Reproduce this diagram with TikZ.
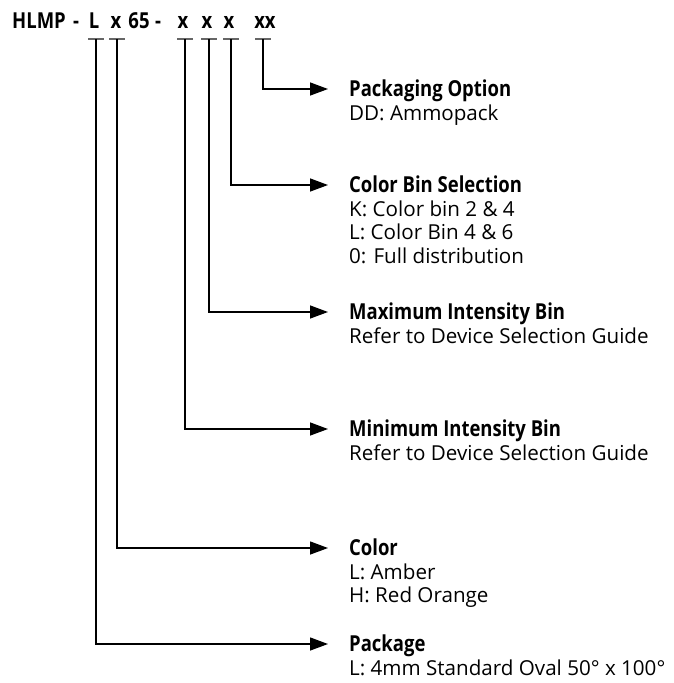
\documentclass[tikz,border=0pt]{standalone}
\usepackage{fontspec}
\setmainfont{Open Sans}
\newfontfamily\headfont[FakeStretch=0.84]{Open Sans}
\usetikzlibrary{arrows.meta}
\begin{document}
\begin{tikzpicture}[x=1pt,y=-1pt,
    head/.style={font=\headfont\bfseries\fontsize{22}{23}\selectfont,
      inner sep=0pt, text height=14pt, text depth=0pt, anchor=west},
    detail/.style={font=\fontsize{20.6}{23}\selectfont,
      inner sep=0pt, text height=14pt, text depth=9pt, anchor=north west},
    code/.style={font=\headfont\bfseries\fontsize{22}{23}\selectfont,
      inner sep=0pt, anchor=base},
    bar/.style={black!60, line width=1.5pt},
    feed/.style={line width=1.4pt, -{Triangle[length=18pt,width=13pt]},
      shorten >=21pt}]
  \useasboundingbox (0,0) rectangle (673,683);
  % part number
  \node[code, anchor=base west] (hlmp) at (12,28) {HLMP};
  \node[code] (dashA) at (76,28) {-};
  \node[code] (pkgCode) at (94,28) {L};
  \node[code] (colCode) at (116,28) {x};
  \node[code] (num) at (139,28) {65};
  \node[code] (dashB) at (158,28) {-};
  \node[code] (minCode) at (183,28) {x};
  \node[code] (maxCode) at (207,28) {x};
  \node[code] (binCode) at (229,28) {x};
  \node[code] (optCode) at (265,28) {xx};
  % taps under the code letters
  \coordinate (pkgTap) at (96,39);
  \coordinate (colTap) at (117,39);
  \coordinate (minTap) at (185,39);
  \coordinate (maxTap) at (209,39);
  \coordinate (binTap) at (231,39);
  \coordinate (optTap) at (263,39);
  \draw[bar]
    ([xshift=-8pt]pkgTap) -- ([xshift=8pt]pkgTap)
    ([xshift=-8pt]colTap) -- ([xshift=8pt]colTap)
    ([xshift=-8pt]minTap) -- ([xshift=8pt]minTap)
    ([xshift=-8pt]maxTap) -- ([xshift=8pt]maxTap)
    ([xshift=-8pt]binTap) -- ([xshift=8pt]binTap)
    ([xshift=-8pt]optTap) -- ([xshift=8pt]optTap);
  % fields
  \node[head] (optHead) at (349,89) {Packaging Option};
  \node[detail] (optText) at ([yshift=-10pt]optHead.south west) {DD: Ammopack};
  \node[head] (binHead) at (349,185) {Color Bin Selection};
  \node[detail] (binTextA) at ([yshift=-10pt]binHead.south west) {K: Color bin 2 \& 4};
  \node[detail] (binTextB) at (binTextA.south west) {L: Color Bin 4 \& 6};
  \node[detail] (binTextC) at (binTextB.south west) {0: Full distribution};
  \node[head] (maxHead) at (349,312) {Maximum Intensity Bin};
  \node[detail] (maxText) at ([yshift=-10pt]maxHead.south west) {Refer to Device Selection Guide};
  \node[head] (minHead) at (349,429) {Minimum Intensity Bin};
  \node[detail] (minText) at ([yshift=-10pt]minHead.south west) {Refer to Device Selection Guide};
  \node[head] (colHead) at (349,548) {Color};
  \node[detail] (colTextA) at ([yshift=-10pt]colHead.south west) {L: Amber};
  \node[detail] (colTextB) at (colTextA.south west) {H: Red Orange};
  \node[head] (pkgHead) at (349,644) {Package};
  \node[detail] (pkgText) at ([yshift=-10pt]pkgHead.south west) {L: 4mm Standard Oval 50° x 100°};
  % connectors
  \draw[feed] (optTap) |- (optHead.west);
  \draw[feed] (binTap) |- (binHead.west);
  \draw[feed] (maxTap) |- (maxHead.west);
  \draw[feed] (minTap) |- (minHead.west);
  \draw[feed] (colTap) |- (colHead.west);
  \draw[feed] (pkgTap) |- (pkgHead.west);
\end{tikzpicture}
\end{document}
